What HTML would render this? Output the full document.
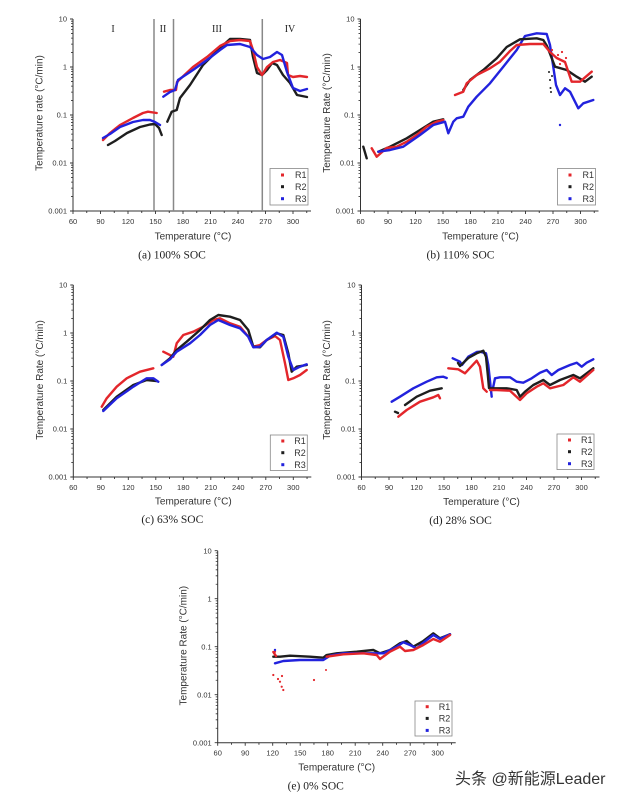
<!DOCTYPE html>
<html><head><meta charset="utf-8"><style>
html,body{margin:0;padding:0;background:#fff;}
svg{display:block;}
.ax{stroke:#333;stroke-width:1;fill:none;}
.tl{font-family:"Liberation Sans",sans-serif;font-size:7.5px;fill:#333;}
.al{font-family:"Liberation Sans",sans-serif;font-size:10px;fill:#333;}
.cap{font-family:"Liberation Serif",serif;font-size:11.5px;fill:#222;}
.lg{font-family:"Liberation Sans",sans-serif;font-size:9px;fill:#333;}
.r{stroke:#e3262b;}
.k{stroke:#1e1e1e;}
.b{stroke:#2222dd;}
.d{fill:none;stroke-width:2.4;stroke-linejoin:round;stroke-linecap:round;}
</style></head><body>
<svg width="626" height="800" viewBox="0 0 626 800" xmlns="http://www.w3.org/2000/svg">
<rect width="626" height="800" fill="#fff"/>
<defs>
<path id="ymin" d="M-2,2.2h2M-2,4.66h2M-2,7.44h2M-2,10.65h2M-2,14.45h2M-2,19.1h2M-2,25.1h2M-2,33.55h2M-2,50.2h2M-2,52.66h2M-2,55.44h2M-2,58.65h2M-2,62.45h2M-2,67.1h2M-2,73.1h2M-2,81.55h2M-2,98.2h2M-2,100.66h2M-2,103.44h2M-2,106.65h2M-2,110.45h2M-2,115.1h2M-2,121.1h2M-2,129.55h2M-2,146.2h2M-2,148.66h2M-2,151.44h2M-2,154.65h2M-2,158.45h2M-2,163.1h2M-2,169.1h2M-2,177.55h2" stroke="#333" stroke-width="0.8"/>
<path id="xt" d="M0,192v3M27.5,192v3M55,192v3M82.5,192v3M110,192v3M137.5,192v3M165,192v3M192.5,192v3M220,192v3M13.75,192v2M41.25,192v2M68.75,192v2M96.25,192v2M123.75,192v2M151.25,192v2M178.75,192v2M206.25,192v2M233.75,192v2M-3,0H0M-3,48H0M-3,96H0M-3,144H0M-3,192H0" stroke="#333" stroke-width="0.9"/>
</defs>

<!-- Panel a -->
<g transform="translate(73,19)">
<path class="ax" d="M0,0V192H238"/>
<use href="#ymin"/><use href="#xt"/>
<text class="tl" x="-6" y="2.7" text-anchor="end">10</text>
<text class="tl" x="-6" y="50.7" text-anchor="end">1</text>
<text class="tl" x="-6" y="98.7" text-anchor="end">0.1</text>
<text class="tl" x="-6" y="146.7" text-anchor="end">0.01</text>
<text class="tl" x="-6" y="194.7" text-anchor="end">0.001</text>
<g text-anchor="middle">
<text class="tl" x="0" y="205">60</text><text class="tl" x="27.5" y="205">90</text><text class="tl" x="55" y="205">120</text><text class="tl" x="82.5" y="205">150</text><text class="tl" x="110" y="205">180</text><text class="tl" x="137.5" y="205">210</text><text class="tl" x="165" y="205">240</text><text class="tl" x="192.5" y="205">270</text><text class="tl" x="220" y="205">300</text>
<text class="al" x="120" y="220.5">Temperature (°C)</text>
<text class="cap" x="99" y="239.5">(a) 100% SOC</text>
<text class="al" transform="translate(-30.5,94) rotate(-90)">Temperature rate (°C/min)</text>
<text class="cap" x="40" y="13" style="font-size:10px">I</text>
<text class="cap" x="90" y="13" style="font-size:10px">II</text>
<text class="cap" x="144" y="13" style="font-size:10px">III</text>
<text class="cap" x="217" y="13" style="font-size:10px">IV</text>
</g>
<rect x="197" y="149.5" width="38" height="36.5" fill="#fff" stroke="#888" stroke-width="0.8"/>
<rect x="208" y="154.5" width="3" height="3" fill="#e3262b"/><text class="lg" x="222" y="159.2">R1</text>
<rect x="208" y="166.2" width="3" height="3" fill="#1e1e1e"/><text class="lg" x="222" y="170.9">R2</text>
<rect x="208" y="178.2" width="3" height="3" fill="#2222dd"/><text class="lg" x="222" y="182.9">R3</text>
</g>
<g stroke="#888" stroke-width="1.5"><line x1="154" y1="19" x2="154" y2="211"/><line x1="173.5" y1="19" x2="173.5" y2="211"/><line x1="262.3" y1="19" x2="262.3" y2="211"/></g>
<polyline class="d k" points="108,145 115,141 127,133 140,127 150,124.5 155,124 159,128 161.7,135"/>
<polyline class="d k" points="167.3,121.7 171.7,111.7 176.7,110 180,98 190,85 203,65 210,58 220,48 230,39 240,39 250,40 253,57 257,73 262,75 267,70 272,63 277,65 283,75 290,83 297,95 307,97"/>
<polyline class="d r" points="103,140 110,133 120,125 133,118 143,113 148,111.7 156.7,113"/>
<polyline class="d r" points="164,91.7 170,90 176,90 177,82 193,67 207,57 220,46 230,41 240,40 250,41 253,50 257,67 262,75 267,67 273,62 280,60 287,63 288,75 293,77 300,76 307,77"/>
<polyline class="d b" points="103,138 110,134 120,127 133,122 143,120 150,120 155,122 160,125"/>
<polyline class="d b" points="163.3,96.7 170,92 175,90 178,80 193,70 207,60 220,50 227,45 240,44 250,47 257,55 263,59 270,57 277,52 282,55 287,72 293,88 300,91 307,89"/>

<!-- Panel b -->
<g transform="translate(360.5,19)">
<path class="ax" d="M0,0V192H238"/>
<use href="#ymin"/><use href="#xt"/>
<text class="tl" x="-6" y="2.7" text-anchor="end">10</text>
<text class="tl" x="-6" y="50.7" text-anchor="end">1</text>
<text class="tl" x="-6" y="98.7" text-anchor="end">0.1</text>
<text class="tl" x="-6" y="146.7" text-anchor="end">0.01</text>
<text class="tl" x="-6" y="194.7" text-anchor="end">0.001</text>
<g text-anchor="middle">
<text class="tl" x="0" y="205">60</text><text class="tl" x="27.5" y="205">90</text><text class="tl" x="55" y="205">120</text><text class="tl" x="82.5" y="205">150</text><text class="tl" x="110" y="205">180</text><text class="tl" x="137.5" y="205">210</text><text class="tl" x="165" y="205">240</text><text class="tl" x="192.5" y="205">270</text><text class="tl" x="220" y="205">300</text>
<text class="al" x="120" y="220.5">Temperature (°C)</text>
<text class="cap" x="100" y="239.5">(b) 110% SOC</text>
<text class="al" transform="translate(-30.5,94) rotate(-90)">Temperature Rate (°C/min)</text>
</g>
<rect x="197" y="149.5" width="38" height="36.5" fill="#fff" stroke="#888" stroke-width="0.8"/>
<rect x="208" y="154.5" width="3" height="3" fill="#e3262b"/><text class="lg" x="222" y="159.2">R1</text>
<rect x="208" y="166.2" width="3" height="3" fill="#1e1e1e"/><text class="lg" x="222" y="170.9">R2</text>
<rect x="208" y="178.2" width="3" height="3" fill="#2222dd"/><text class="lg" x="222" y="182.9">R3</text>
</g>
<polyline class="d k" points="363.3,146.7 366.7,158.3"/>
<polyline class="d k" points="378.3,151.7 390,146.7 406.7,138.3 420,130 433.3,121.7 443.3,119.3"/>
<polyline class="d r" points="371.7,148.3 376.7,156.7 386.7,148 396.7,146.7 406.7,141.7 416.7,135 426.7,126.7 436.7,121.7 443.3,120"/>
<polyline class="d b" points="378.3,151.7 390,150 403.3,146.7 420,135 433.3,125 445,121.7 448.3,133.3 453.3,121.7 456.7,118.3 463.3,116.7 468.3,106.7 476.7,96.7 490,83.3 503.3,66.7 516.7,50 525,36 536.7,33.3 546.7,34 550,45 553,65 556,85 560,95 565,88.3 570,91.7 578.3,108.3 583.3,103.3 593.3,100"/>
<polyline class="d k" points="463.3,90 470,80 483.3,70 496.7,58.3 506.7,47 520,39.3 536.7,38.3 543.3,40 547,46 555,66.7 566.7,70 576.7,76.7 585,81.7 591.7,76.7"/>
<polyline class="d r" points="455,95 463.3,91.7 466.7,83.3 476.7,75 490,68.3 500,61.7 510,51 516.7,45 530,44 543.3,44 550,52 556.7,58 565,62 571.7,81.7 580,81.7 591.7,71.7"/>
<g fill="#1e1e1e"><circle cx="549" cy="72" r="1"/><circle cx="550" cy="80" r="1"/><circle cx="550.5" cy="88" r="1"/><circle cx="551" cy="92" r="1"/><circle cx="552" cy="76" r="1"/></g>
<g fill="#e3262b"><circle cx="552" cy="50" r="1.1"/><circle cx="558" cy="55" r="1.1"/><circle cx="562" cy="52" r="1.1"/><circle cx="566" cy="58" r="1.1"/><circle cx="560" cy="64" r="1.1"/></g>
<circle cx="560" cy="125" r="1.2" fill="#2222dd"/>

<!-- Panel c -->
<g transform="translate(73.3,285)">
<path class="ax" d="M0,0V192H238"/>
<use href="#ymin"/><use href="#xt"/>
<text class="tl" x="-6" y="2.7" text-anchor="end">10</text>
<text class="tl" x="-6" y="50.7" text-anchor="end">1</text>
<text class="tl" x="-6" y="98.7" text-anchor="end">0.1</text>
<text class="tl" x="-6" y="146.7" text-anchor="end">0.01</text>
<text class="tl" x="-6" y="194.7" text-anchor="end">0.001</text>
<g text-anchor="middle">
<text class="tl" x="0" y="205">60</text><text class="tl" x="27.5" y="205">90</text><text class="tl" x="55" y="205">120</text><text class="tl" x="82.5" y="205">150</text><text class="tl" x="110" y="205">180</text><text class="tl" x="137.5" y="205">210</text><text class="tl" x="165" y="205">240</text><text class="tl" x="192.5" y="205">270</text><text class="tl" x="220" y="205">300</text>
<text class="al" x="120" y="219.5">Temperature (°C)</text>
<text class="cap" x="99" y="238">(c) 63% SOC</text>
<text class="al" transform="translate(-30.5,95) rotate(-90)">Temperature Rate (°C/min)</text>
</g>
<rect x="197" y="150" width="37" height="35.5" fill="#fff" stroke="#888" stroke-width="0.8"/>
<rect x="208" y="154.5" width="3" height="3" fill="#e3262b"/><text class="lg" x="221" y="159.2">R1</text>
<rect x="208" y="166.2" width="3" height="3" fill="#1e1e1e"/><text class="lg" x="221" y="170.9">R2</text>
<rect x="208" y="178.2" width="3" height="3" fill="#2222dd"/><text class="lg" x="221" y="182.9">R3</text>
</g>
<polyline class="d r" points="101.7,406.7 106.7,398.3 116.7,386.7 126.7,378.3 140,371.7 153.3,368.3"/>
<polyline class="d r" points="163.3,351.7 173.3,356.7 176.7,343.3 183.3,335 193.3,331.7 203.3,326.7 213.3,320 220,318.3 230,323.3 240,326.7 248.3,336.7 253.3,346.7 260,345 266.7,340 275,336 280,340 285,363.3 288.3,380 293.3,378.3 300,375 306.7,370"/>
<polyline class="d k" points="103.3,410 116.7,396.7 133.3,385 146.7,380 156.7,381"/>
<polyline class="d k" points="161.7,365 170,358.3 176.7,350 186.7,341.7 200,330 210,320 218.3,315 230,316.7 240,320 248.3,330 253.3,346.7 260,347.3 266.7,340 276.7,333.3 283.3,335 288.3,353.3 291.7,371.7 296.7,366.7 306.7,365"/>
<polyline class="d b" points="103.3,411 116.7,398.3 133.3,386.7 146.7,378.3 153.3,378.3 158.3,381.7"/>
<polyline class="d b" points="161.7,365 170,359.3 176.7,351.7 190,343.3 200,335 210,325 218.3,320 230,325 240,328.3 248.3,336.7 253.3,347.3 260,346.7 266.7,340 276.7,332.7 283.3,336.7 288.3,356.7 293.3,370 300,366.7 306.7,364.3"/>

<!-- Panel d -->
<g transform="translate(361.5,285)">
<path class="ax" d="M0,0V192H238"/>
<use href="#ymin"/><use href="#xt"/>
<text class="tl" x="-6" y="2.7" text-anchor="end">10</text>
<text class="tl" x="-6" y="50.7" text-anchor="end">1</text>
<text class="tl" x="-6" y="98.7" text-anchor="end">0.1</text>
<text class="tl" x="-6" y="146.7" text-anchor="end">0.01</text>
<text class="tl" x="-6" y="194.7" text-anchor="end">0.001</text>
<g text-anchor="middle">
<text class="tl" x="0" y="205">60</text><text class="tl" x="27.5" y="205">90</text><text class="tl" x="55" y="205">120</text><text class="tl" x="82.5" y="205">150</text><text class="tl" x="110" y="205">180</text><text class="tl" x="137.5" y="205">210</text><text class="tl" x="165" y="205">240</text><text class="tl" x="192.5" y="205">270</text><text class="tl" x="220" y="205">300</text>
<text class="al" x="120" y="220">Temperature (°C)</text>
<text class="cap" x="99" y="239">(d) 28% SOC</text>
<text class="al" transform="translate(-31.5,95) rotate(-90)">Temperature Rate (°C/min)</text>
</g>
<rect x="195.5" y="149" width="37" height="35.5" fill="#fff" stroke="#888" stroke-width="0.8"/>
<rect x="206.5" y="153.5" width="3" height="3" fill="#e3262b"/><text class="lg" x="219.5" y="158.2">R1</text>
<rect x="206.5" y="165.2" width="3" height="3" fill="#1e1e1e"/><text class="lg" x="219.5" y="169.9">R2</text>
<rect x="206.5" y="177.2" width="3" height="3" fill="#2222dd"/><text class="lg" x="219.5" y="181.9">R3</text>
</g>
<polyline class="d b" points="391.7,401.7 400,396.7 413.3,388.3 426.7,381.7 436.7,377.3 443.3,376.7 446.7,378"/>
<polyline class="d b" points="452.7,358.3 460,361.7 462,365 468.3,356.7 476.7,352 480,351.7 486,353.3 488.3,365 491.7,396.7"/>
<polyline class="d b" points="493,388 495,378.3 500,377.3 510,377.3 516.7,381.7 523.3,382.7 531.7,378.3 540,372.7 546.7,370 551.7,375 558.3,370 570,365 576.7,362.7 581.7,366.7 586.7,362.7 593.3,359.3"/>
<polyline class="d k" points="395,411.7 398,413"/>
<polyline class="d k" points="405,405 416.7,396.7 430,390.7 441.7,388.3"/>
<polyline class="d k" points="458,363 460,366 468.3,358 476.7,353.3 483.3,350.7 486,356.7 488,376.7 489,388"/>
<polyline class="d k" points="490,388.3 506.7,388.3 516.7,390 520,396.7 525,391.7 533.3,385 543.3,380 550,385 560,380 573.3,375 580,378.3 593.3,368.3"/>
<polyline class="d r" points="398.3,416.7 406.7,410 420,401.7 433.3,397.3 438.3,395 440,398.3"/>
<polyline class="d r" points="448.3,368.3 458.3,369.3 465,373.3 476.7,360.7 480,366.7 483.3,388.3 486.7,391.7"/>
<polyline class="d r" points="490,390 496.7,390 510,390.7 520,400 526.7,393.3 536.7,386.7 543.3,383.3 550,388.3 563.3,385 573.3,377.3 580,381.7 593.3,370"/>

<!-- Panel e -->
<g transform="translate(217.7,550.7)">
<path class="ax" d="M0,0V192H238"/>
<use href="#ymin"/><use href="#xt"/>
<text class="tl" x="-6" y="2.7" text-anchor="end">10</text>
<text class="tl" x="-6" y="50.7" text-anchor="end">1</text>
<text class="tl" x="-6" y="98.7" text-anchor="end">0.1</text>
<text class="tl" x="-6" y="146.7" text-anchor="end">0.01</text>
<text class="tl" x="-6" y="194.7" text-anchor="end">0.001</text>
<g text-anchor="middle">
<text class="tl" x="0" y="205">60</text><text class="tl" x="27.5" y="205">90</text><text class="tl" x="55" y="205">120</text><text class="tl" x="82.5" y="205">150</text><text class="tl" x="110" y="205">180</text><text class="tl" x="137.5" y="205">210</text><text class="tl" x="165" y="205">240</text><text class="tl" x="192.5" y="205">270</text><text class="tl" x="220" y="205">300</text>
<text class="al" x="119" y="220">Temperature (°C)</text>
<text class="cap" x="98" y="239">(e) 0% SOC</text>
<text class="al" transform="translate(-31,95) rotate(-90)">Temperature Rate (°C/min)</text>
</g>
<rect x="197.3" y="150.3" width="37" height="35" fill="#fff" stroke="#888" stroke-width="0.8"/>
<rect x="208" y="154.5" width="3" height="3" fill="#e3262b"/><text class="lg" x="221" y="159.2">R1</text>
<rect x="208" y="166.2" width="3" height="3" fill="#1e1e1e"/><text class="lg" x="221" y="170.9">R2</text>
<rect x="208" y="178.2" width="3" height="3" fill="#2222dd"/><text class="lg" x="221" y="182.9">R3</text>
</g>
<polyline class="d k" points="273.3,656.7 280,656.7 290,655.7 310,656.7 323.3,657.7 326.7,655 336.7,653.3 356.7,651.7 373.3,650 380,653.3 390,650 400,643.3 406.7,641 413.3,646.7 423.3,641 433.3,633.3 440,638.3 450,634.3"/>
<polyline class="d b" points="275,663.3 283.3,661 300,660 323.3,660 330,655.7 343.3,653.3 363.3,653.3 376.7,653.3 383.3,653.3 396.7,646.7 403.3,642.3 410,645 416.7,648.3 426.7,640 433.3,635 440,639 450,634.3"/>
<polyline class="d r" points="326.7,656.7 343.3,654.3 363.3,653.3 376.7,655 380,659 390,651.7 400,646.7 405,651 413.3,650 423.3,645 433.3,639 440,641.7 450,635"/>
<polyline class="d r" points="273.3,652 276,656"/>
<g fill="#e3262b"><circle cx="273.3" cy="675" r="1.1"/><circle cx="278" cy="679" r="1.1"/><circle cx="280" cy="681.7" r="1.1"/><circle cx="281.7" cy="686.7" r="1.1"/><circle cx="283.3" cy="690" r="1.1"/><circle cx="282" cy="676" r="1.1"/><circle cx="314" cy="680" r="1.1"/><circle cx="275" cy="651.7" r="1.1"/><circle cx="326" cy="670" r="1"/></g>
<circle cx="275" cy="650" r="1.2" fill="#2222dd"/>

<!-- watermark -->
<text x="455" y="784" style="font-family:'Liberation Sans','Noto Sans CJK SC',sans-serif;font-size:16px;fill:#333;">头条 @新能源Leader</text>
</svg>
</body></html>
